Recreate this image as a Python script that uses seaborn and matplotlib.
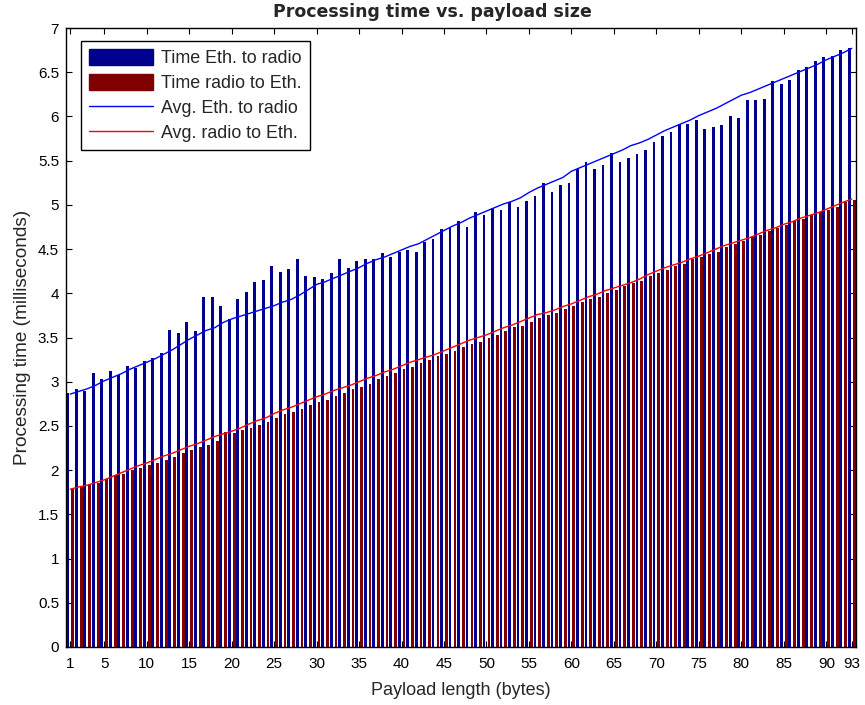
import matplotlib
matplotlib.use("Agg")
import matplotlib.pyplot as plt
from matplotlib.patches import Patch
from matplotlib.lines import Line2D
import pandas as pd
import seaborn as sns

# Payload sizes (bytes)
payload = list(range(1, 94))

# Measured processing times (ms), Ethernet -> radio
eth_to_radio = [
    2.87, 2.915, 2.89, 3.10, 3.035, 3.12, 3.08, 3.18, 3.16, 3.235,
    3.27, 3.32, 3.59, 3.55, 3.67, 3.57, 3.96, 3.96, 3.86, 3.71,
    3.94, 4.02, 4.125, 4.145, 4.31, 4.245, 4.28, 4.39, 4.20, 4.185,
    4.16, 4.225, 4.39, 4.29, 4.365, 4.39, 4.39, 4.45, 4.41, 4.47,
    4.49, 4.47, 4.575, 4.61, 4.73, 4.735, 4.82, 4.755, 4.92, 4.88,
    4.97, 4.94, 5.03, 4.98, 5.045, 5.105, 5.245, 5.14, 5.225, 5.245,
    5.41, 5.49, 5.41, 5.45, 5.59, 5.49, 5.53, 5.57, 5.615, 5.715,
    5.775, 5.82, 5.91, 5.92, 5.96, 5.86, 5.88, 5.90, 6.00, 5.98,
    6.185, 6.185, 6.20, 6.405, 6.37, 6.41, 6.53, 6.555, 6.63, 6.675,
    6.68, 6.755, 6.775,
]

# Measured processing times (ms), radio -> Ethernet
radio_to_eth = [
    1.785, 1.81, 1.83, 1.85, 1.90, 1.94, 1.955, 2.00, 2.02, 2.055,
    2.08, 2.12, 2.145, 2.19, 2.23, 2.265, 2.285, 2.33, 2.43, 2.415,
    2.45, 2.475, 2.51, 2.55, 2.59, 2.635, 2.655, 2.69, 2.735, 2.775,
    2.795, 2.84, 2.875, 2.915, 2.94, 2.975, 3.03, 3.065, 3.10, 3.145,
    3.17, 3.21, 3.245, 3.29, 3.31, 3.35, 3.39, 3.43, 3.45, 3.49,
    3.53, 3.575, 3.615, 3.635, 3.675, 3.72, 3.755, 3.775, 3.82, 3.855,
    3.90, 3.94, 3.96, 4.00, 4.04, 4.085, 4.115, 4.14, 4.195, 4.225,
    4.265, 4.31, 4.33, 4.385, 4.41, 4.445, 4.47, 4.52, 4.555, 4.59,
    4.635, 4.66, 4.70, 4.735, 4.775, 4.82, 4.84, 4.885, 4.915, 4.945,
    4.98, 5.03, 5.055,
]

# Averaged processing times (ms)
avg_eth_to_radio = [
    2.86, 2.89, 2.92, 2.96, 3.01, 3.05, 3.09, 3.14, 3.18, 3.22,
    3.26, 3.31, 3.36, 3.42, 3.48, 3.53, 3.58, 3.61, 3.67, 3.71,
    3.74, 3.77, 3.80, 3.83, 3.86, 3.90, 3.93, 3.98, 4.04, 4.10,
    4.13, 4.17, 4.21, 4.25, 4.29, 4.34, 4.38, 4.41, 4.45, 4.49,
    4.53, 4.56, 4.61, 4.66, 4.71, 4.76, 4.80, 4.85, 4.89, 4.93,
    4.97, 5.01, 5.04, 5.08, 5.14, 5.19, 5.23, 5.27, 5.31, 5.38,
    5.42, 5.46, 5.50, 5.54, 5.58, 5.62, 5.67, 5.70, 5.74, 5.79,
    5.84, 5.88, 5.92, 5.96, 6.01, 6.05, 6.09, 6.14, 6.19, 6.24,
    6.27, 6.31, 6.35, 6.39, 6.43, 6.47, 6.51, 6.55, 6.59, 6.64,
    6.68, 6.72, 6.77,
]

avg_radio_to_eth = [
    1.785, 1.81, 1.83, 1.86, 1.89, 1.93, 1.97, 2.01, 2.05, 2.08,
    2.12, 2.16, 2.19, 2.23, 2.27, 2.30, 2.34, 2.38, 2.41, 2.44,
    2.475, 2.52, 2.56, 2.59, 2.64, 2.68, 2.71, 2.75, 2.79, 2.83,
    2.86, 2.90, 2.93, 2.96, 3.00, 3.04, 3.07, 3.11, 3.14, 3.18,
    3.22, 3.25, 3.28, 3.31, 3.35, 3.39, 3.43, 3.47, 3.50, 3.53,
    3.57, 3.61, 3.64, 3.68, 3.72, 3.76, 3.78, 3.81, 3.85, 3.88,
    3.92, 3.96, 3.99, 4.03, 4.06, 4.09, 4.12, 4.16, 4.21, 4.25,
    4.29, 4.32, 4.35, 4.39, 4.42, 4.46, 4.50, 4.54, 4.57, 4.60,
    4.63, 4.67, 4.71, 4.74, 4.78, 4.81, 4.85, 4.88, 4.91, 4.95,
    4.99, 5.03, 5.065,
]

series_names = ["Time Eth. to radio", "Time radio to Eth."]
avg_names = ["Avg. Eth. to radio", "Avg. radio to Eth."]
x_ticks = [1, 5, 10, 15, 20, 25, 30, 35, 40, 45, 50, 55, 60, 65, 70, 75, 80, 85, 90, 93]
y_ticks = [0, 0.5, 1, 1.5, 2, 2.5, 3, 3.5, 4, 4.5, 5, 5.5, 6, 6.5, 7]

bar_colors = ["#00008F", "#800000"]
line_colors = ["#0000FF", "#FF0000"]

df = pd.DataFrame({
    "payload": payload * 2,
    "time": eth_to_radio + radio_to_eth,
    "series": [series_names[0]] * len(payload) + [series_names[1]] * len(payload),
})

sns.set_theme(style="white")
plt.rcParams["font.family"] = ["Liberation Sans", "DejaVu Sans"]

fig = plt.figure(figsize=(8.65, 7.05), dpi=100)
ax = fig.add_axes([66 / 865, 1 - 647 / 705, 790 / 865, 619 / 705])

sns.barplot(
    data=df, x="payload", y="time", hue="series", hue_order=series_names,
    palette=bar_colors, native_scale=True, width=1.15, gap=0.42,
    errorbar=None, saturation=1, linewidth=0, legend=False, ax=ax,
)
sns.lineplot(x=payload, y=avg_eth_to_radio, color=line_colors[0], linewidth=1.0, ax=ax)
sns.lineplot(x=payload, y=avg_radio_to_eth, color=line_colors[1], linewidth=1.0, ax=ax)

ax.set_xlim(0.5, 93.5)
ax.set_ylim(0, 7)
ax.set_xticks(x_ticks)
ax.set_xticklabels([str(t) for t in x_ticks])
ax.set_yticks(y_ticks)
ax.set_yticklabels([f"{t:g}" for t in y_ticks])
ax.tick_params(axis="both", direction="in", length=4, width=0.8, top=True, right=True,
               bottom=True, left=True, labelsize=11, colors="black")
ax.tick_params(axis="x", pad=7)
ax.tick_params(axis="y", pad=5)
for s in ax.spines.values():
    s.set_color("black")
    s.set_linewidth(1.0)

# Title is centred on the whole figure
fig.text(0.5, 1 - 12 / 705, "Processing time vs. payload size", ha="center", va="center",
         fontsize=12.5, fontweight="bold", family=["DejaVu Sans"])
ax.set_xlabel("Payload length (bytes)", fontsize=13, labelpad=8)
ax.set_ylabel("Processing time (milliseconds)", fontsize=13.7, labelpad=5)

handles = [
    Patch(facecolor=bar_colors[0], edgecolor=bar_colors[0]),
    Patch(facecolor=bar_colors[1], edgecolor=bar_colors[1]),
    Line2D([], [], color=line_colors[0], linewidth=1.0),
    Line2D([], [], color=line_colors[1], linewidth=1.0),
]
leg = ax.legend(
    handles, series_names + avg_names, loc="upper left",
    bbox_to_anchor=(0.0186, 0.9795), borderaxespad=0, fontsize=12.9,
    handlelength=3.6, handleheight=1.0, handletextpad=0.45, labelspacing=0.38,
    borderpad=0.45, fancybox=False, framealpha=1, edgecolor="black",
)
leg.get_frame().set_linewidth(1.0)

fig.savefig("out.png", dpi=100)
